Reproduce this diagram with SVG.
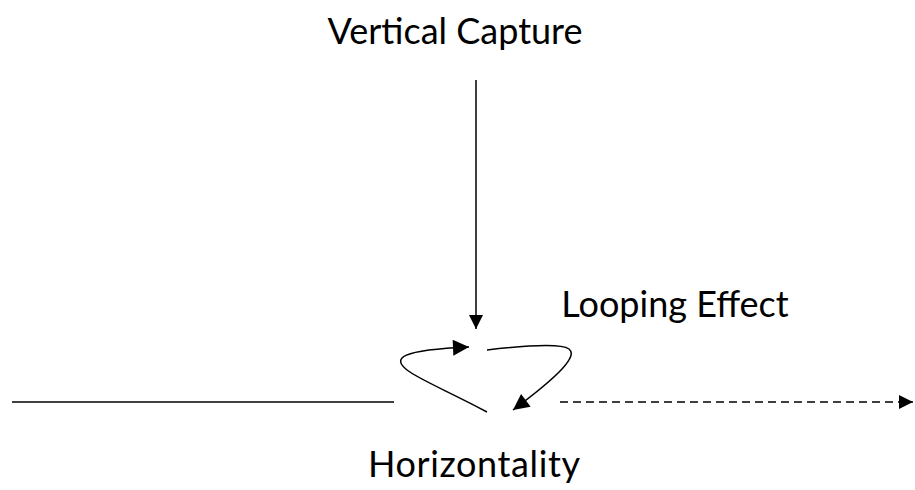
<svg xmlns="http://www.w3.org/2000/svg" width="915" height="490" viewBox="0 0 915 490">
<style>
.lbl{font-family:Lato,"Open Sans","Liberation Sans",sans-serif;font-size:36px;fill:#000}
.ln{stroke:#000;stroke-width:1.5;fill:none}
</style>
<defs>
<marker id="ahb" viewBox="0 0 10 10" refX="10" refY="5" markerWidth="14" markerHeight="14" markerUnits="userSpaceOnUse" orient="auto"><path d="M0,0L10,5L0,10z" fill="#000"/></marker>
<marker id="ahl" viewBox="0 0 10 10" refX="10" refY="5" markerWidth="18" markerHeight="16" markerUnits="userSpaceOnUse" orient="auto"><path d="M0,0L10,5L0,10z" fill="#000"/></marker>
</defs>
<g id="vertical-capture"><text class="lbl" x="455" y="44" text-anchor="middle">Vertical Capture</text></g>
<g id="looping-effect"><text class="lbl" x="675" y="317" text-anchor="middle">Looping Effect</text></g>
<g id="horizontality"><text class="lbl" x="474" y="477" text-anchor="middle" textLength="212">Horizontality</text></g>
<g id="connectors">
<line class="ln" x1="476" y1="80" x2="476" y2="329" marker-end="url(#ahb)"/>
<line class="ln" x1="12" y1="402" x2="394" y2="402"/>
<line class="ln" x1="560" y1="402" x2="913" y2="402" stroke-dasharray="8,5" marker-end="url(#ahb)"/>
<path class="ln" d="M487,412 C450,392 420,380 407,370 C392,358 400,350 469,347" stroke-width="2" marker-end="url(#ahl)"/>
<path class="ln" d="M487,350 C530,345 562,344 569,349 C578,356 560,375 513,410" stroke-width="2" marker-end="url(#ahl)"/>
</g>
</svg>
